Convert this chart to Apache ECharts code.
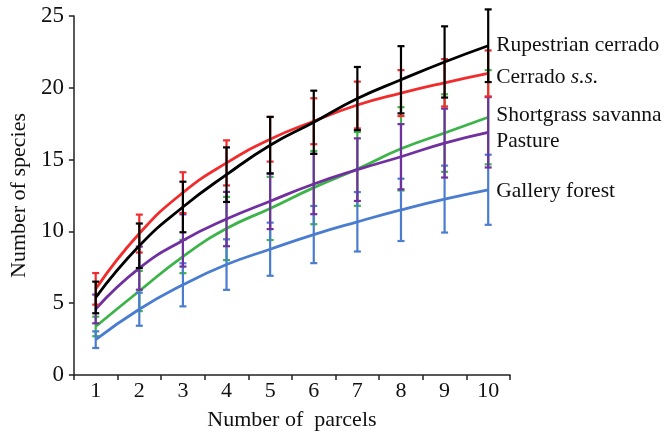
<!DOCTYPE html>
<html>
<head>
<meta charset="utf-8">
<script src="https://cdn.jsdelivr.net/npm/echarts@6/dist/echarts.min.js"></script>
<style>html,body{margin:0;padding:0;background:#fff}#c{width:665px;height:439px}</style>
</head>
<body>
<div id="c"></div>
<script>
const categories = ['1','2','3','4','5','6','7','8','9','10'];
const yTicks = [0, 5, 10, 15, 20, 25];
const rupestrian    = [5.4, 9.0, 11.7, 13.95, 16.0, 17.6, 19.25, 20.56, 21.8, 22.93];
const rupestrianErr = [1.1, 1.55, 1.76, 1.9, 1.97, 2.2, 2.2, 2.34, 2.48, 2.53];
const cerrado       = [6.0, 9.85, 12.7, 14.77, 16.42, 17.67, 18.8, 19.63, 20.35, 21.0];
const cerradoErr    = [1.1, 1.32, 1.42, 1.57, 1.56, 1.6, 1.63, 1.6, 1.65, 1.6];
const shortgrass    = [3.38, 5.85, 8.25, 10.2, 11.6, 13.05, 14.35, 15.75, 16.85, 17.95];
const shortgrassErr = [0.68, 1.4, 1.16, 2.2, 2.2, 2.55, 2.57, 2.9, 2.7, 3.28];
const pasture       = [4.6, 7.44, 9.37, 10.86, 12.1, 13.3, 14.3, 15.2, 16.15, 16.9];
const pastureErr    = [1.0, 1.5, 1.82, 1.89, 1.94, 2.1, 2.18, 2.27, 2.4, 2.45];
const gallery       = [2.46, 4.58, 6.28, 7.69, 8.76, 9.78, 10.67, 11.5, 12.25, 12.9];
const galleryErr    = [0.58, 1.15, 1.5, 1.76, 1.85, 1.99, 2.07, 2.17, 2.33, 2.44];

const FONT = '"Liberation Serif", "DejaVu Serif", serif';

const groups = [
  {name: 'Shortgrass savanna', data: shortgrass, err: shortgrassErr, color: '#3cb44a', dy: -2, z: 2},
  {name: 'Gallery forest', data: gallery, err: galleryErr, color: '#4a7dd0', dy: 2, z: 3},
  {name: 'Pasture', data: pasture, err: pastureErr, color: '#7030a0', dy: 9, z: 4},
  {name: 'Cerrado s.s.', data: cerrado, err: cerradoErr, color: '#f22c2c', dy: 4, z: 5},
  {name: 'Rupestrian cerrado', data: rupestrian, err: rupestrianErr, color: '#000000', dy: 0, z: 6}
];

const series = [];
groups.forEach(g => {
  series.push({
    type: 'custom',
    name: g.name + ' err',
    z: g.z,
    silent: true,
    data: g.data.map((v, i) => [i, v, g.err[i]]),
    renderItem: function (params, api) {
      const x = api.value(0), m = api.value(1), e = api.value(2);
      const top = api.coord([x, m + e]);
      const bot = api.coord([x, m - e]);
      const hw = 3.5;
      const st = {stroke: g.color, lineWidth: 2.2};
      return {
        type: 'group',
        children: [
          {type: 'line', shape: {x1: top[0], y1: top[1], x2: bot[0], y2: bot[1]}, style: st},
          {type: 'line', shape: {x1: top[0] - hw, y1: top[1], x2: top[0] + hw, y2: top[1]}, style: st},
          {type: 'line', shape: {x1: bot[0] - hw, y1: bot[1], x2: bot[0] + hw, y2: bot[1]}, style: st}
        ]
      };
    }
  });
  series.push({
    type: 'line',
    name: g.name,
    z: g.z,
    data: g.data,
    smooth: true,
    symbol: 'none',
    lineStyle: {color: g.color, width: 2.8},
    itemStyle: {color: g.color},
    endLabel: {
      show: true,
      distance: 8,
      offset: [0, g.dy],
      color: '#111',
      fontFamily: FONT,
      fontSize: 21.5,
      formatter: g.name === 'Cerrado s.s.' ? '{n|Cerrado }{i|s.s.}' : g.name,
      rich: {
        n: {fontFamily: FONT, fontSize: 21.5, color: '#111'},
        i: {fontFamily: FONT, fontSize: 21.5, fontStyle: 'italic', color: '#111'}
      }
    }
  });
});

const chart = echarts.init(document.getElementById('c'), null, {renderer: 'canvas'});
chart.setOption({
  animation: false,
  backgroundColor: '#fff',
  grid: {left: 71, right: 155, top: 16, bottom: 64, containLabel: false},
  xAxis: {
    type: 'category',
    data: categories,
    boundaryGap: true,
    name: 'Number of  parcels',
    nameLocation: 'middle',
    nameGap: 34,
    nameTextStyle: {fontFamily: FONT, fontSize: 22, color: '#111'},
    axisLine: {lineStyle: {color: '#222', width: 1.5}},
    axisTick: {show: true, length: 5, lineStyle: {color: '#222', width: 1.5}},
    axisLabel: {fontFamily: FONT, fontSize: 22, color: '#111', margin: 5},
    splitLine: {show: false}
  },
  yAxis: {
    type: 'value',
    min: yTicks[0],
    max: yTicks[yTicks.length - 1],
    interval: 5,
    name: 'Number of species',
    nameLocation: 'middle',
    nameGap: 42,
    nameTextStyle: {fontFamily: FONT, fontSize: 22, color: '#111'},
    axisLine: {show: true, lineStyle: {color: '#222', width: 1.5}},
    axisTick: {show: true, length: 5, lineStyle: {color: '#222', width: 1.5}},
    axisLabel: {fontFamily: FONT, fontSize: 23, color: '#111', margin: 10},
    splitLine: {show: false}
  },
  series: series
});
</script>
</body>
</html>
